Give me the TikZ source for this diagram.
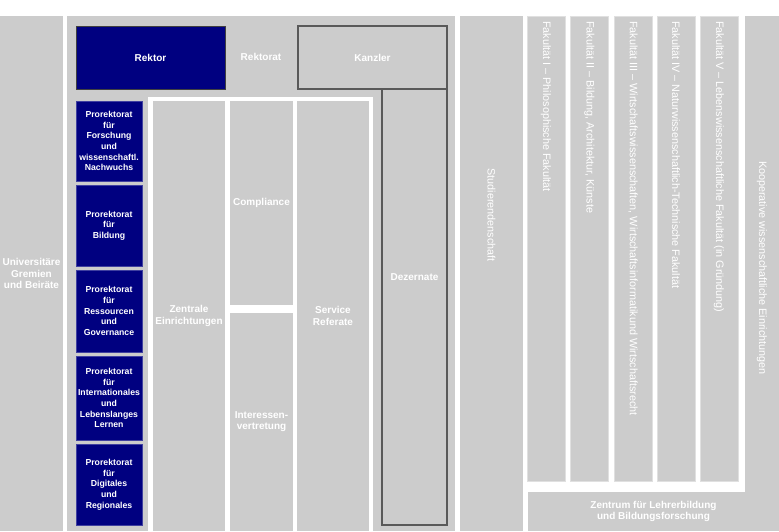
\documentclass[tikz,border=0pt]{standalone}
\usepackage{fontspec}
\setmainfont{Liberation Sans}
\usetikzlibrary{positioning}
\definecolor{orggray}{HTML}{CCCCCC}
\definecolor{orgnavy}{HTML}{000080}
\tikzset{
    org panel/.style={fill=orggray, inner sep=0pt, outer sep=0pt, anchor=north west},
    org box/.style={
        org panel,
        text=white,
        align=center,
        font=\bfseries\fontsize{10}{11.2}\selectfont
    },
    org frame/.style={org box, draw=black!65, line width=1.1pt},
    org pro/.style={
        org box,
        fill=orgnavy,
        draw=orgnavy!75!white,
        line width=0.8pt,
        minimum width=66pt,
        font=\bfseries\fontsize{8.7}{10.7}\selectfont
    },
    org fac/.style={org panel, draw=white!88!black, line width=0.6pt, minimum width=38pt, minimum height=465pt},
    org label/.style={text=white, inner sep=0pt, align=center, font=\bfseries\fontsize{10}{11.2}\selectfont},
    org vlabel/.style={text=white, inner sep=0pt, rotate=-90, font=\fontsize{10.8}{12}\selectfont}
}

\begin{document}
\begin{tikzpicture}[x=1pt, y=-1pt]
\useasboundingbox[fill=white] (0,0) rectangle (779,531);

% Gremien
\node[org box, minimum width=63pt, minimum height=515pt] (gremien) at (0,16) {Universitäre\\Gremien\\und Beiräte};

% Rektorat panel
\node[org panel, minimum width=388pt, minimum height=515pt] (rektorat) at (67,16) {};
\node[org frame, fill=orgnavy, draw=black!75, line width=0.8pt, minimum width=149pt, minimum height=63pt] (rektor) at (76,26) {Rektor};
\node[org label] (rektorattext) at (261,57) {Rektorat};
\node[org frame, minimum width=65pt, minimum height=436pt] (dez) at (382,89) {};
\node[org label] (deztext) at ([yshift=-188pt]dez.north) {Dezernate};
\node[org frame, minimum width=149pt, minimum height=63pt] (kanzler) at (298,26) {Kanzler};

% Prorektorate
\node[org pro, minimum height=80pt] (pr1) at (76,101) {Prorektorat\\für\\Forschung\\und\\wissenschaftl.\\Nachwuchs};
\node[org pro, minimum height=81pt] (pr2) at (76,185) {Prorektorat\\für\\Bildung};
\node[org pro, minimum height=82pt] (pr3) at (76,270) {Prorektorat\\für\\Ressourcen\\und\\Governance};
\node[org pro, minimum height=84pt] (pr4) at (76,356) {Prorektorat\\für\\Internationales\\und\\Lebenslanges\\Lernen};
\node[org pro, minimum height=81pt] (pr5) at (76,444) {Prorektorat\\für\\Digitales\\und\\Regionales};

% Einrichtungen
\node[org panel, fill=white, minimum width=225pt, minimum height=434pt] (einr) at (148,97) {};
\node[org box, minimum width=72pt, minimum height=430pt] (zentrale) at (153,101) {Zentrale\\Einrichtungen};
\node[org box, minimum width=63pt, minimum height=204pt] (compliance) at (230,101) {Compliance};
\node[org box, minimum width=63pt, minimum height=218pt] (interessen) at (230,313) {Interessen-\\vertretung};
\node[org box, minimum width=72pt, minimum height=430pt] (service) at (297,101) {Service\\Referate};

% Studierendenschaft
\node[org panel, minimum width=63pt, minimum height=515pt] (stud) at (460,16) {};
\node[org vlabel] (studtext) at ([yshift=58.5pt]stud.center) {Studierendenschaft};

% Fakultaeten
\node[org fac] (fak1) at (527,16) {};
\node[org fac] (fak2) at (570.5,16) {};
\node[org fac] (fak3) at (614,16) {};
\node[org fac] (fak4) at (657,16) {};
\node[org fac] (fak5) at (700,16) {};
\node[org vlabel, anchor=west] (fak1text) at ([yshift=-5pt]fak1.north) {Fakultät I – Philosophische Fakultät};
\node[org vlabel, anchor=west] (fak2text) at ([yshift=-5pt]fak2.north) {Fakultät II – Bildung, Architektur, Künste};
\node[org vlabel, anchor=west] (fak3text) at ([yshift=-5pt]fak3.north) {Fakultät III – Wirtschaftswissenschaften, Wirtschaftsinformatikund Wirtschaftsrecht};
\node[org vlabel, anchor=west] (fak4text) at ([yshift=-5pt]fak4.north) {Fakultät IV – Naturwissenschaftlich-Technische Fakultät};
\node[org vlabel, anchor=west] (fak5text) at ([yshift=-5pt]fak5.north) {Fakultät V – Lebenswissenschaftliche Fakultät (in Gründung)};

% Kooperative Einrichtungen und Zentrum
\node[org panel, minimum width=34pt, minimum height=515pt] (koop) at (745,16) {};
\node[org vlabel] (kooptext) at ([yshift=5.5pt]koop.center) {Kooperative wissenschaftliche Einrichtungen};
\node[org box, minimum width=251pt, minimum height=39pt] (zlb) at (528,492) {Zentrum für Lehrerbildung\\und Bildungsforschung};
\end{tikzpicture}
\end{document}
